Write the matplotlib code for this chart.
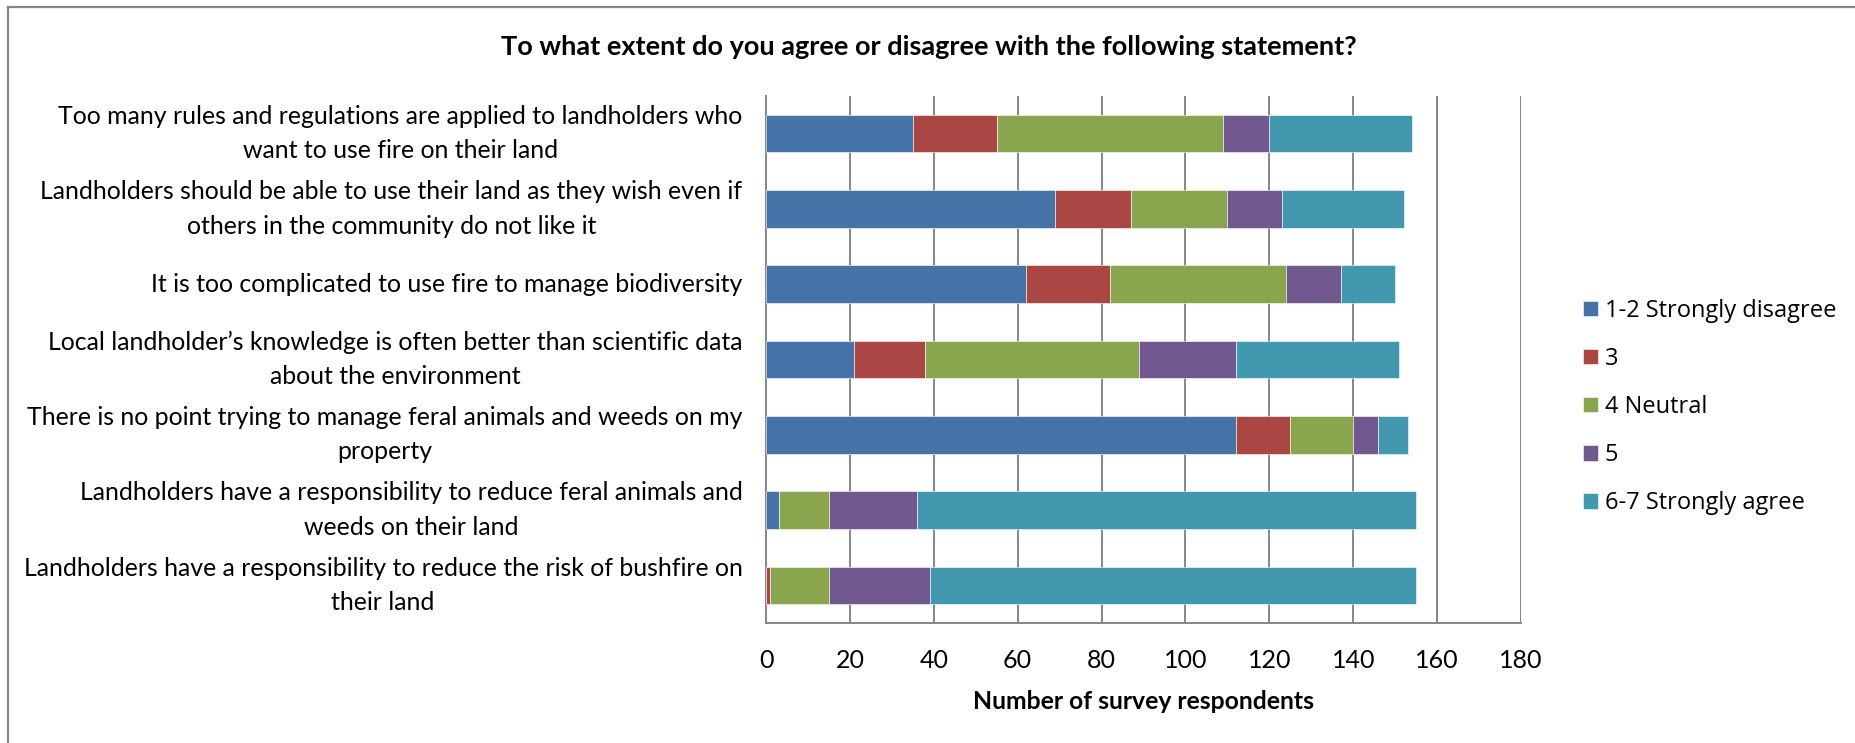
import numpy as np
import matplotlib
matplotlib.use("Agg")
import matplotlib.pyplot as plt
from matplotlib.lines import Line2D

# =========================
# DATA
# =========================

statements = [
    "Too many rules and regulations are applied to landholders who\nwant to use fire on their land",
    "Landholders should be able to use their land as they wish even if\nothers in the community do not like it",
    "It is too complicated to use fire to manage biodiversity",
    "Local landholder\u2019s knowledge is often better than scientific data\nabout the environment",
    "There is no point trying to manage feral animals and weeds on my\nproperty",
    "Landholders have a responsibility to reduce feral animals and\nweeds on their land",
    "Landholders have a responsibility to reduce the risk of bushfire on\ntheir land",
]

strongly_disagree = [35, 69, 62, 21, 112, 3, 0]
score_3 = [20, 18, 20, 17, 13, 0, 1]
neutral = [54, 23, 42, 51, 15, 12, 14]
score_5 = [11, 13, 13, 23, 6, 21, 24]
strongly_agree = [34, 29, 13, 39, 7, 119, 116]

series_names = ["1-2 Strongly disagree", "3", "4 Neutral", "5", "6-7 Strongly agree"]
series_colors = ["#4572A7", "#AA4643", "#89A54E", "#71588F", "#4198AF"]

x_ticks = [0, 20, 40, 60, 80, 100, 120, 140, 160, 180]

# =========================
# PLOT
# =========================

plt.rcParams['font.family'] = ['Lato', 'DejaVu Sans']
grid_col = "#868686"

fig = plt.figure(figsize=(18.56, 7.43), dpi=100)
ax = fig.add_axes([766 / 1856, 1 - 623 / 743, (1521 - 766) / 1856, (623 - 96) / 743])

y = np.arange(len(statements))
left = np.zeros(len(statements))
all_series = [strongly_disagree, score_3, neutral, score_5, strongly_agree]
for vals, name, col in zip(all_series, series_names, series_colors):
    vals = np.array(vals)
    ax.barh(y, vals, left=left, height=0.5, color=col, label=name,
            edgecolor="white", linewidth=0.4, zorder=3)
    left += vals

ax.set_ylim(len(statements) - 0.5, -0.5)
ax.set_xlim(0, 180)
ax.set_xticks(x_ticks)
ax.set_yticks(y)
ax.set_yticklabels(statements, fontsize=17.9, multialignment="center",
                   linespacing=1.6, va="center")
ax.tick_params(axis="y", length=0, pad=17)
ax.tick_params(axis="x", length=0, pad=19, labelsize=18)

ax.grid(axis="x", color=grid_col, linewidth=1.4, zorder=0)
ax.set_axisbelow(True)
for s in ["top", "right"]:
    ax.spines[s].set_visible(False)
for s in ["left", "bottom"]:
    ax.spines[s].set_color(grid_col)
    ax.spines[s].set_linewidth(1.4)

ax.set_xlabel("Number of survey respondents", fontsize=17.8, fontweight="bold", labelpad=13)

fig.text(929 / 1856, 1 - 47 / 743,
         "To what extent do you agree or disagree with the following statement?",
         ha="center", va="center", fontsize=19.5, fontweight="bold")

leg = ax.legend(loc="center left", bbox_to_anchor=(1583 / 1856, 1 - 407 / 743),
                bbox_transform=fig.transFigure, frameon=False,
                prop={"family": "Open Sans", "size": 17},
                handlelength=0.63, handleheight=0.63, handletextpad=0.3,
                labelspacing=1.02, borderpad=0, borderaxespad=0)

# chart border (top and left edges visible in the crop)
fig.add_artist(Line2D([8 / 1856, 1], [1 - 7 / 743, 1 - 7 / 743],
                      transform=fig.transFigure, color=grid_col, linewidth=1.6))
fig.add_artist(Line2D([8 / 1856, 8 / 1856], [0, 1 - 7 / 743],
                      transform=fig.transFigure, color=grid_col, linewidth=1.6))

fig.savefig("out.png", dpi=100)
